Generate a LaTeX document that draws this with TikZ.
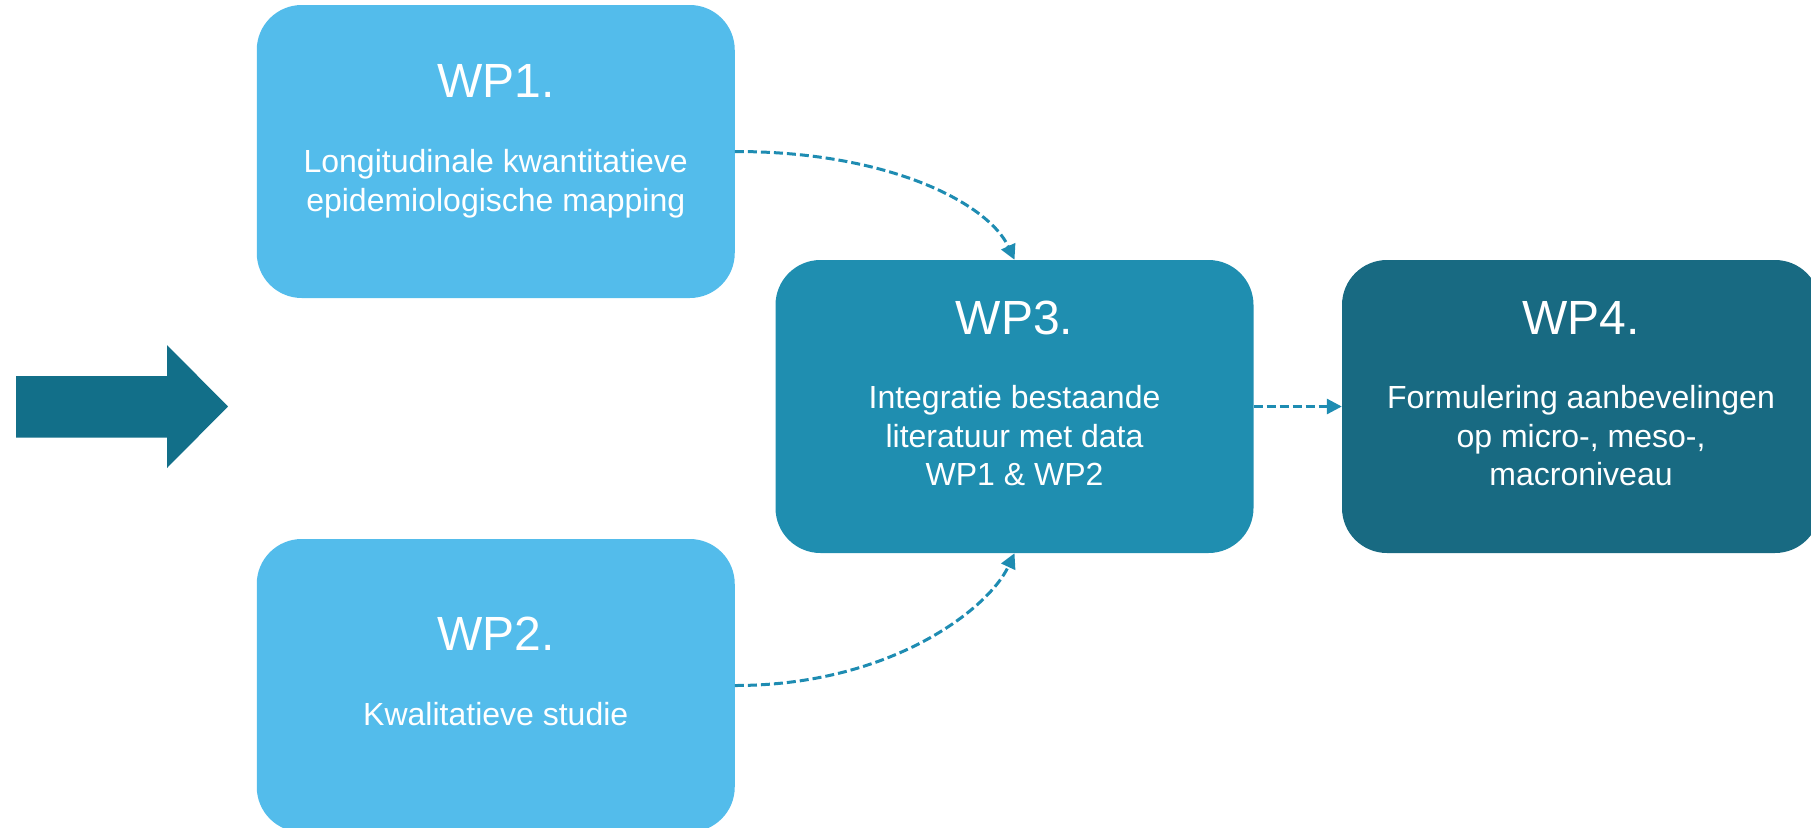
\documentclass[tikz,border=0pt]{standalone}
\usepackage{fontspec}
\setmainfont{Liberation Sans}
\usetikzlibrary{arrows.meta,positioning}
\definecolor{wplight}{RGB}{83,188,235}
\definecolor{wpmid}{RGB}{31,142,176}
\definecolor{wpdark}{RGB}{24,106,130}
\definecolor{wparrow}{RGB}{18,111,137}
\definecolor{wplink}{RGB}{30,140,178}
\newcommand{\wplines}[1]{\begin{tabular}[t]{@{}c@{}}#1\end{tabular}}

\begin{document}
\begin{tikzpicture}[x=1pt, y=1pt, >={Triangle[length=15pt,width=15pt]},
  wpbox/.style={fill=#1, rounded corners=45pt, minimum width=478pt, minimum height=293pt, inner sep=0pt},
  wptitle/.style={text=white, anchor=base, inner sep=0pt, font=\fontsize{48}{58}\selectfont},
  wptext/.style={text=white, anchor=base, inner sep=0pt, font=\fontsize{32}{38.5}\selectfont},
  link/.style={->, wplink, line width=3pt, dash pattern=on 9pt off 4pt}]
  \clip (0,0) rectangle (1811,-827);
  % incoming arrow
  \fill[wparrow] (16,-376) -- (167,-376) -- (167,-345) -- (228,-406.5) -- (167,-468)
    -- (167,-437.5) -- (16,-437.5) -- cycle;
  % work packages
  \node[wpbox=wplight] (wp1) at (495.75,-151.5) {};
  \node[wpbox=wplight] (wp2) at (495.75,-685.5) {};
  \node[wpbox=wpmid] (wp3) at (1014.5,-406.5) {};
  \node[wpbox=wpdark] (wp4) at (1581,-406.5) {};
  % texts
  \node[wptitle] (wp1title) at ([yshift=-93pt]wp1.north) {WP1.};
  \node[wptext] (wp1text) at ([yshift=-168pt]wp1.north)
    {\wplines{Longitudinale kwantitatieve\\epidemiologische mapping}};
  \node[wptitle] (wp2title) at ([yshift=-112pt]wp2.north) {WP2.};
  \node[wptext] (wp2text) at ([yshift=-187pt]wp2.north) {Kwalitatieve studie};
  \node[wptitle] (wp3title) at ([yshift=-75pt]wp3.north) {WP3.};
  \node[wptext] (wp3text) at ([yshift=-149pt]wp3.north)
    {\wplines{Integratie bestaande\\literatuur met data\\WP1 \& WP2}};
  \node[wptitle] (wp4title) at ([yshift=-75pt]wp4.north) {WP4.};
  \node[wptext] (wp4text) at ([yshift=-149pt]wp4.north)
    {\wplines{Formulering aanbevelingen\\op micro-, meso-,\\macroniveau}};
  % links
  \draw[link] (wp1.east) .. controls +(155,0) and +(-26,56) .. (wp3.north);
  \draw[link] (wp2.east) .. controls +(155,0) and +(-26,-56) .. (wp3.south);
  \draw[link] (wp3.east) -- (wp4.west);
\end{tikzpicture}
\end{document}
